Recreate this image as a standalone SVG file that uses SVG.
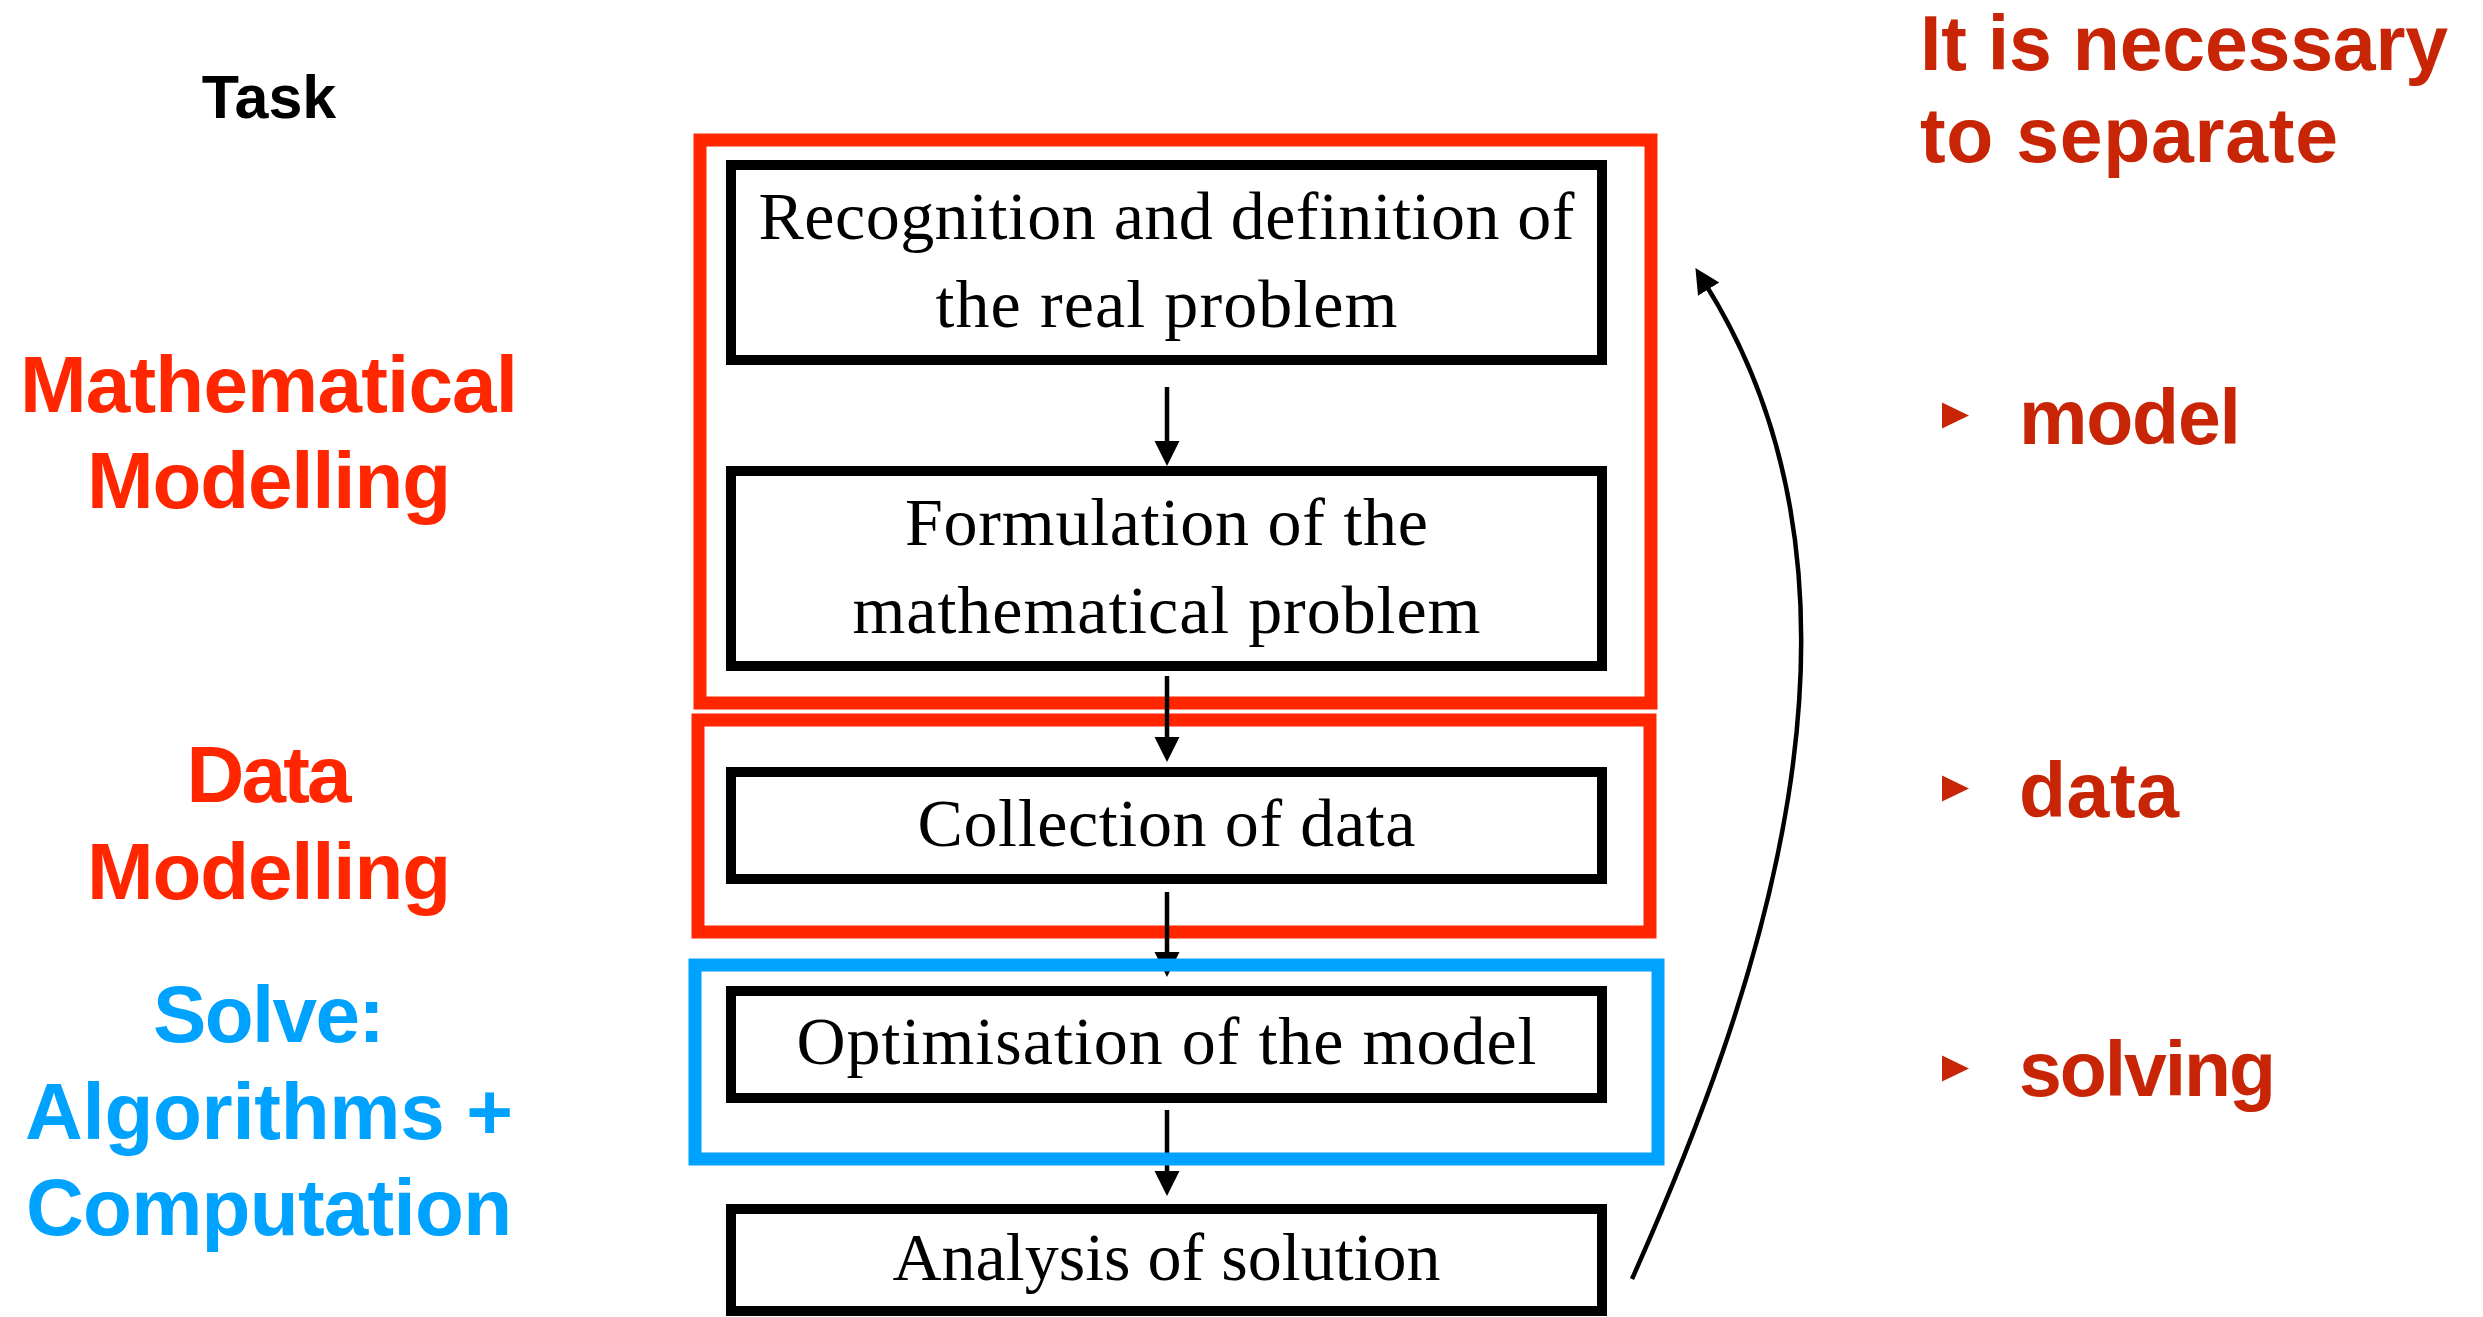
<svg xmlns="http://www.w3.org/2000/svg" width="2483" height="1317" viewBox="0 0 2483 1317">
  <defs>
    <style>
      .step { fill: #ffffff; stroke: #000000; stroke-width: 10; }
      .step text { font-family: "Liberation Serif", "Times New Roman", serif; font-size: 68px; fill: #000000; stroke: none; text-anchor: middle; }
      .frame { fill: none; stroke-width: 13; }
      .frame-red { stroke: #FF2600; }
      .frame-blue { stroke: #00A2FF; }
      .label { font-family: "Liberation Sans", Arial, sans-serif; font-weight: bold; text-anchor: middle; font-size: 80px; }
      .title { font-size: 61px; fill: #000000; }
      .red { fill: #FF2600; }
      .blue { fill: #00A2FF; }
      .note { font-family: "Liberation Sans", Arial, sans-serif; font-weight: bold; font-size: 77px; fill: #C82506; }
      .conn { fill: none; stroke: #000000; stroke-width: 4.5; marker-end: url(#head); }
    </style>
    <marker id="head" markerUnits="userSpaceOnUse" markerWidth="26" markerHeight="26" refX="5" refY="12.5" orient="auto">
      <path d="M0,0 L25,12.5 L0,25 Z" fill="#000000"/>
    </marker>
  </defs>

  <rect width="2483" height="1317" fill="#ffffff"/>

  <!-- section labels on the left -->
  <g id="labels-left">
    <text class="label title" x="269" y="118">Task</text>
    <text class="label red" x="269" y="412" textLength="498">Mathematical</text>
    <text class="label red" x="269" y="508" textLength="364">Modelling</text>
    <text class="label red" x="269" y="802" textLength="165">Data</text>
    <text class="label red" x="269" y="899" textLength="364">Modelling</text>
    <text class="label blue" x="269" y="1042" textLength="232">Solve:</text>
    <text class="label blue" x="269" y="1139" textLength="488">Algorithms +</text>
    <text class="label blue" x="269" y="1235" textLength="486">Computation</text>
  </g>

  <!-- grouping frames (red ones sit under the connectors) -->
  <g id="frame-math-model">
    <rect class="frame frame-red" x="700" y="140" width="951" height="563"/>
  </g>
  <g id="frame-data-model">
    <rect class="frame frame-red" x="698" y="720" width="952" height="212"/>
  </g>

  <!-- process steps -->
  <g id="step-recognition" class="step">
    <rect x="731" y="165" width="871" height="195"/>
    <text x="1166.5" y="239" textLength="816">Recognition and definition of</text>
    <text x="1166.5" y="327" textLength="462">the real problem</text>
  </g>
  <g id="step-formulation" class="step">
    <rect x="731" y="471" width="871" height="195"/>
    <text x="1166.5" y="545" textLength="523">Formulation of the</text>
    <text x="1166.5" y="633" textLength="628">mathematical problem</text>
  </g>
  <g id="step-collection" class="step">
    <rect x="731" y="772" width="871" height="107"/>
    <text x="1166.5" y="846" textLength="498">Collection of data</text>
  </g>
  <g id="step-optimisation" class="step">
    <rect x="731" y="991" width="871" height="107"/>
    <text x="1166.5" y="1064" textLength="740">Optimisation of the model</text>
  </g>
  <g id="step-analysis" class="step">
    <rect x="731" y="1209" width="871" height="102"/>
    <text x="1166.5" y="1280" textLength="548">Analysis of solution</text>
  </g>

  <!-- connectors -->
  <g id="connectors">
    <line class="conn" x1="1167" y1="387" x2="1167" y2="446"/>
    <line class="conn" x1="1167" y1="676" x2="1167" y2="742"/>
    <line class="conn" x1="1167" y1="892" x2="1167" y2="957"/>
    <line class="conn" x1="1167" y1="1110" x2="1167" y2="1176"/>
    <path class="conn" d="M1632,1279 C1754,1005 1902,599 1706,285"/>
  </g>

  <!-- solving frame drawn over the connectors -->
  <g id="frame-solve">
    <rect class="frame frame-blue" x="695" y="965" width="963" height="194"/>
  </g>

  <!-- separation notes on the right -->
  <g id="notes-right">
    <text class="note" x="1920" y="70" textLength="528">It is necessary</text>
    <text class="note" x="1920" y="162" textLength="418">to separate</text>
    <polygon points="1942,402.5 1969,415.5 1942,428.5" fill="#C82506"/>
    <text class="note" x="2019" y="444" textLength="222">model</text>
    <polygon points="1942,775.5 1969,788.5 1942,801.5" fill="#C82506"/>
    <text class="note" x="2019" y="817" textLength="160">data</text>
    <polygon points="1942,1055.5 1969,1068.5 1942,1081.5" fill="#C82506"/>
    <text class="note" x="2019" y="1096" textLength="257">solving</text>
  </g>
</svg>
